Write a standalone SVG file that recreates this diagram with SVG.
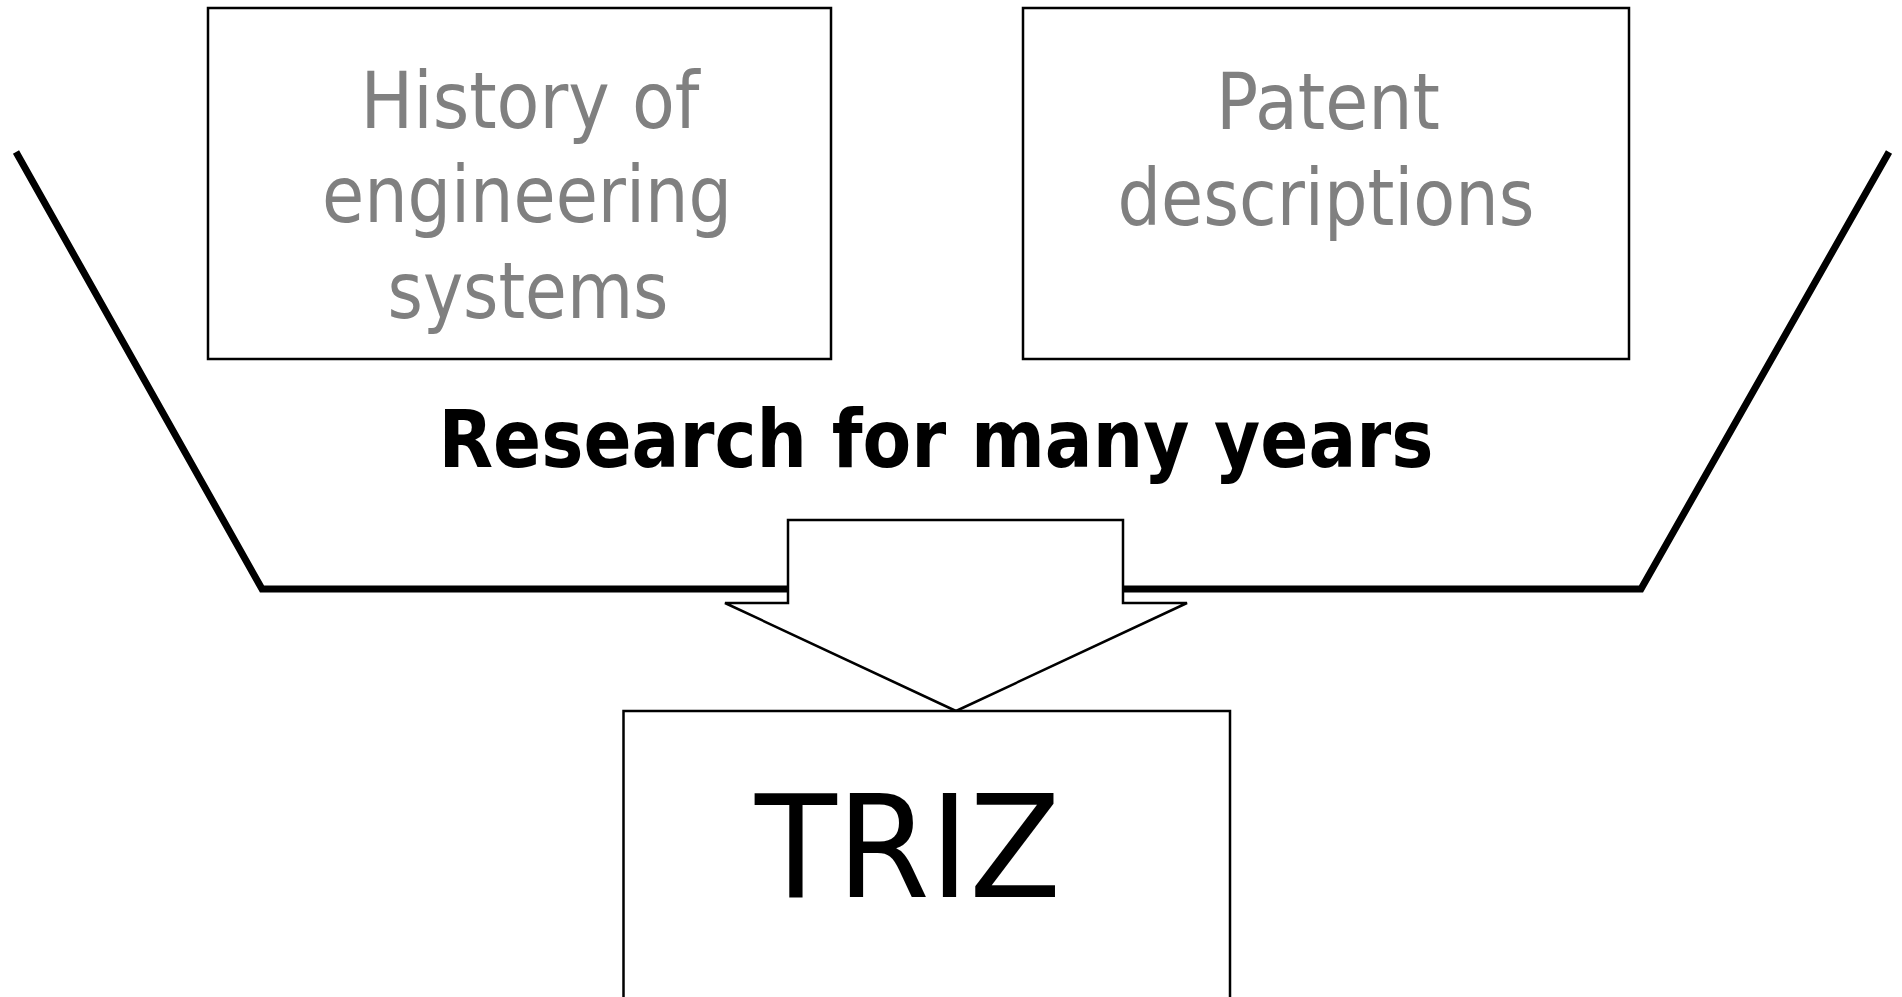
<svg xmlns="http://www.w3.org/2000/svg" width="1902" height="997" viewBox="0 0 1902 997">
  <style>
    .box { fill: #ffffff; stroke: #000000; stroke-width: 2.5; }
    .src { font-family: "DejaVu Sans", "Liberation Sans", sans-serif; font-size: 78px; fill: #808080; text-anchor: middle; }
    .lbl { font-family: "DejaVu Sans", "Liberation Sans", sans-serif; font-weight: bold; font-size: 80px; fill: #000000; text-anchor: middle; }
    .big { font-family: "DejaVu Sans", "Liberation Sans", sans-serif; font-size: 143px; fill: #000000; text-anchor: middle; }
    .funnel { fill: none; stroke: #000000; stroke-width: 7; stroke-linejoin: miter; }
    .arrow { fill: #ffffff; stroke: #000000; stroke-width: 2.5; stroke-linejoin: miter; }
  </style>
  <rect width="1902" height="997" fill="#ffffff"/>
  <g id="connectors">
    <polyline class="funnel" points="16,152 262,589 1641,589 1889,152"/>
    <polygon class="arrow" points="788,520 1123,520 1123,603 1187,603 956,711 725,603 788,603"/>
  </g>
  <g id="node-history">
    <rect class="box" x="208" y="8" width="623" height="351"/>
    <text class="src" x="530" y="128" textLength="339" lengthAdjust="spacingAndGlyphs">History of</text>
    <text class="src" x="527" y="222" textLength="410" lengthAdjust="spacingAndGlyphs">engineering</text>
    <text class="src" x="528" y="318" textLength="281" lengthAdjust="spacingAndGlyphs">systems</text>
  </g>
  <g id="node-patent">
    <rect class="box" x="1023" y="8" width="606" height="351"/>
    <text class="src" x="1328" y="129" textLength="224" lengthAdjust="spacingAndGlyphs">Patent</text>
    <text class="src" x="1326" y="225" textLength="417" lengthAdjust="spacingAndGlyphs">descriptions</text>
  </g>
  <g id="label-research">
    <text class="lbl" x="936" y="467" textLength="995" lengthAdjust="spacingAndGlyphs">Research for many years</text>
  </g>
  <g id="node-triz">
    <rect class="box" x="623.5" y="711" width="606.5" height="300"/>
    <text class="big" x="908" y="897" textLength="306" lengthAdjust="spacingAndGlyphs">TRIZ</text>
  </g>
</svg>
